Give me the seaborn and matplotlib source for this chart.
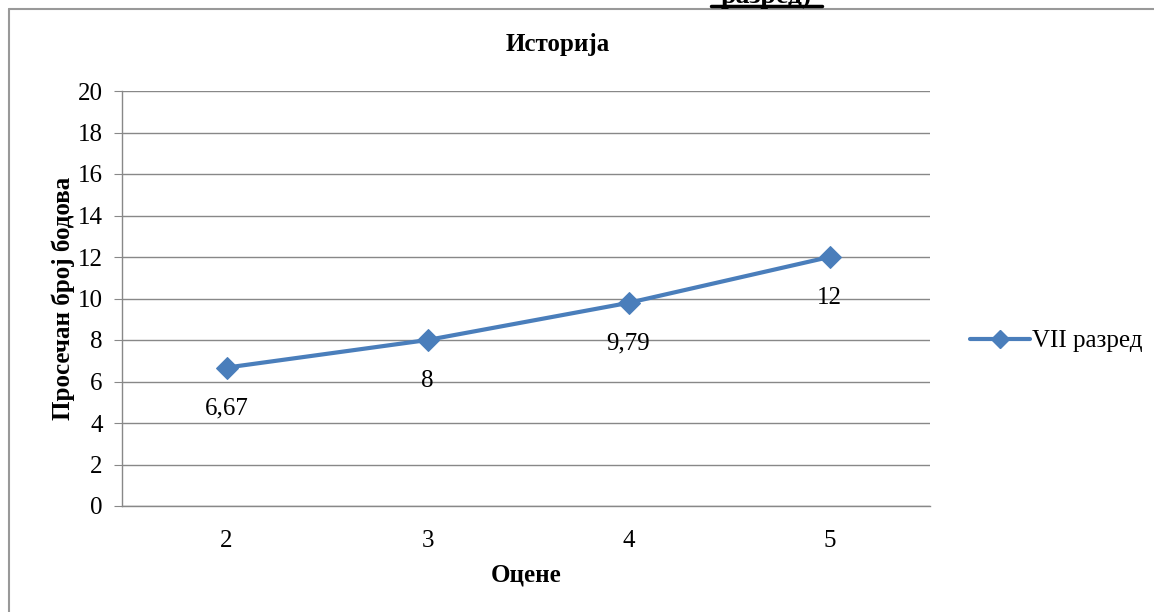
import matplotlib
matplotlib.use('Agg')
import matplotlib.pyplot as plt
import seaborn as sns
import pandas as pd
from matplotlib.lines import Line2D

grades = ['2', '3', '4', '5']
points = [6.67, 8, 9.79, 12]
point_labels = ['6,67', '8', '9,79', '12']
series_name = 'VII разред'

sns.set_style('white')
plt.rcParams['font.family'] = ['Liberation Serif', 'DejaVu Serif']
plt.rcParams['text.color'] = 'black'
plt.rcParams['axes.labelcolor'] = 'black'
plt.rcParams['xtick.color'] = 'black'
plt.rcParams['ytick.color'] = 'black'

df = pd.DataFrame({'grade': grades, 'points': points})
blue = '#4A7EBB'
grid_c = '#888888'
fs = 18

fig = plt.figure(figsize=(11.54, 6.12), dpi=100)
ax = fig.add_axes([122 / 1154, 1 - 506 / 612, (930 - 122) / 1154, (506 - 91) / 612])

sns.lineplot(data=df, x='grade', y='points', ax=ax, color=blue, linewidth=3,
             marker='D', markersize=11, markeredgecolor=blue, sort=False)

ax.set_ylim(0, 20)
ax.set_yticks(range(0, 21, 2))
ax.set_xlim(-0.52, 3.5)
ax.yaxis.grid(True, color=grid_c, linewidth=1)
ax.set_axisbelow(True)
for s in ['top', 'right']:
    ax.spines[s].set_visible(False)
for s in ['left', 'bottom']:
    ax.spines[s].set_color(grid_c)
    ax.spines[s].set_linewidth(1)
ax.tick_params(axis='y', left=True, length=6, color=grid_c, labelsize=fs, pad=8)
ax.tick_params(axis='x', bottom=False, labelsize=fs, pad=14)

for i, (v, lab) in enumerate(zip(points, point_labels)):
    ax.annotate(lab, (i, v), xytext=(0, -41), textcoords='offset pixels',
                ha='center', va='center', fontsize=fs)

fig.text(558 / 1154, 1 - 45 / 612, 'Историја', ha='center', va='center', fontsize=fs,
         fontweight='bold')
ax.set_xlabel('Оцене', fontsize=fs, fontweight='bold', labelpad=8)
ax.set_ylabel('Просечан број бодова', fontsize=fs, fontweight='bold', labelpad=2)

handle = Line2D([], [], color=blue, linewidth=3, marker='D', markersize=9)
fig.legend([handle], [series_name], loc='center left', bbox_to_anchor=(960 / 1154, 1 - 341 / 612),
           frameon=False, fontsize=fs, handlelength=2.4, handletextpad=0.1, borderaxespad=0)

# outer chart frame and cut-off heading above it
fig.add_artist(Line2D([9 / 1154, 1], [1 - 9 / 612, 1 - 9 / 612], color='#999999', linewidth=1.5))
fig.add_artist(Line2D([9 / 1154, 9 / 1154], [0, 1 - 9 / 612], color='#999999', linewidth=1.5))
fig.text(766 / 1154, 1 - 3 / 612, 'разред)', ha='center', va='baseline', fontsize=20,
         fontweight='bold')
fig.add_artist(Line2D([711 / 1154, 822 / 1154], [1 - 6 / 612, 1 - 6 / 612], color='black', linewidth=2.5))

fig.savefig('out.png', dpi=100)
